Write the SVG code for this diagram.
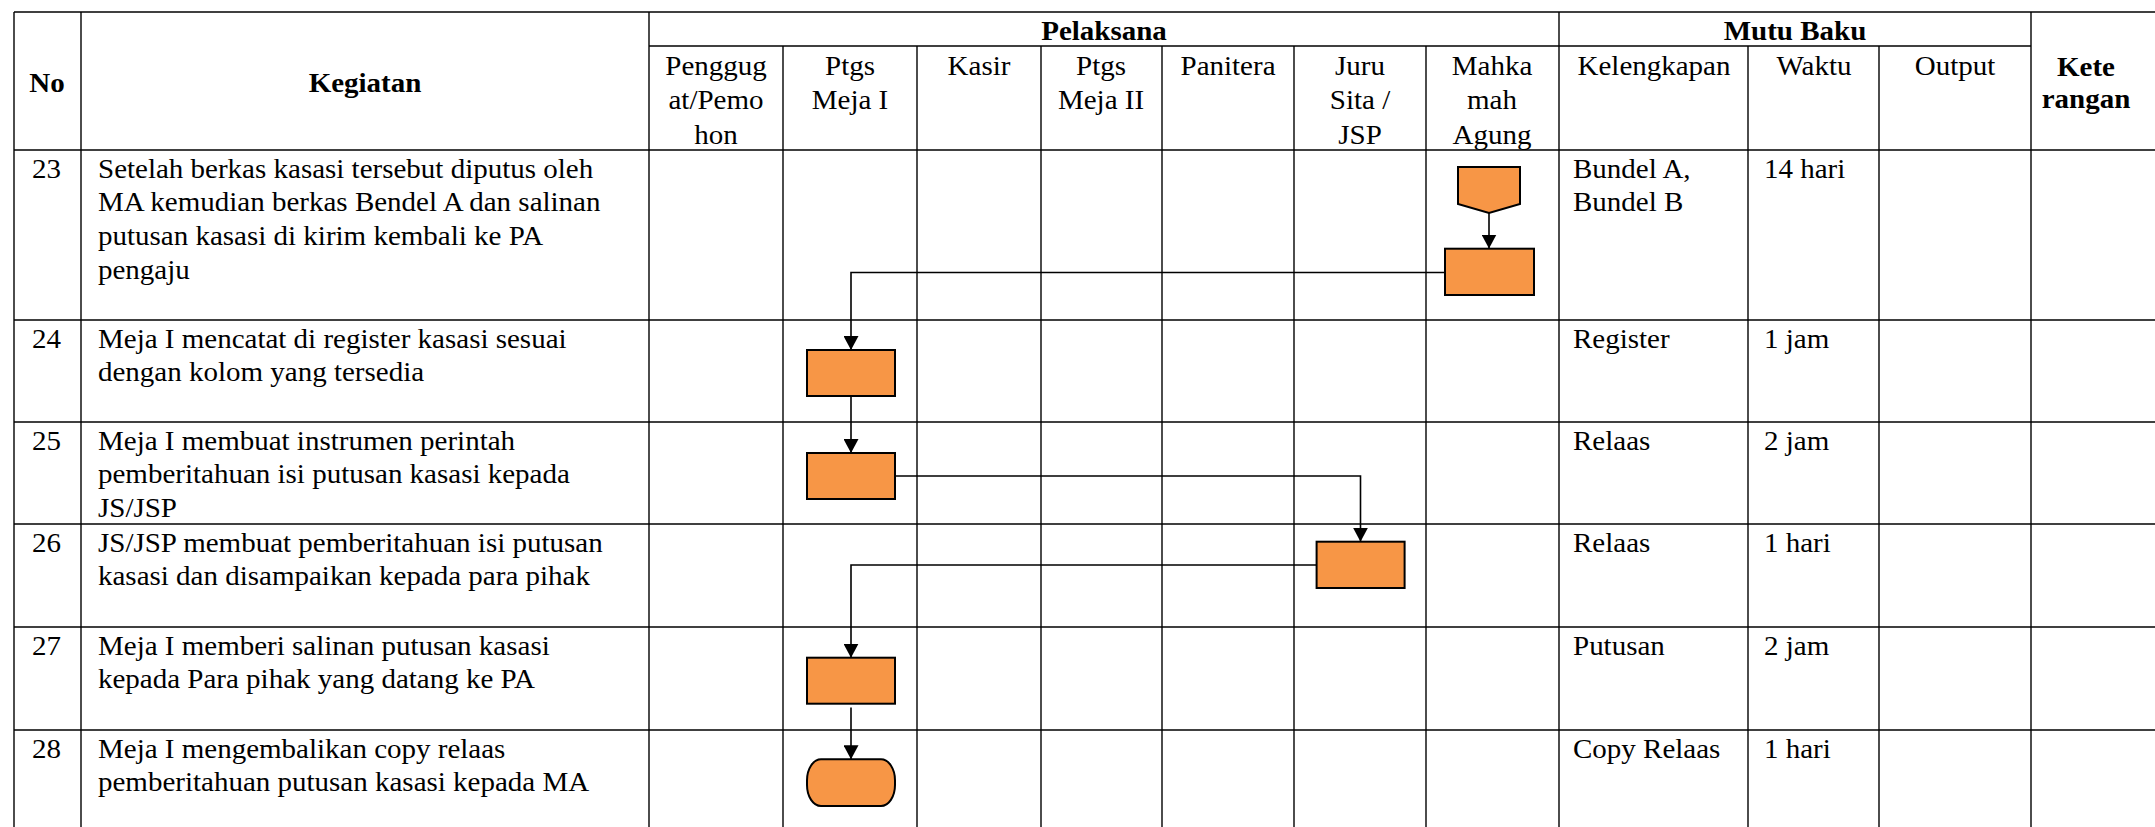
<svg xmlns="http://www.w3.org/2000/svg" width="2155" height="827" viewBox="0 0 2155 827">
<style>
.t { font-family: "Liberation Serif", "Times New Roman", serif; font-size: 26.5px; fill: #000; }
.b { font-weight: bold; }
.c { text-anchor: middle; }
.grid line { stroke: #000; stroke-width: 1.4; }
.shape { fill: #F79646; stroke: #000; stroke-width: 2; }
.conn { fill: none; stroke: #000; stroke-width: 1.6; }
</style>
<defs>
<marker id="arr" viewBox="0 0 14 15" refX="14" refY="7.5" markerWidth="14" markerHeight="15" markerUnits="userSpaceOnUse" orient="auto" preserveAspectRatio="none">
<path d="M0,0 L14,7.5 L0,15 Z" fill="#000"/>
</marker>
</defs>
<rect x="0" y="0" width="2155" height="827" fill="#fff"/>

<g id="grid" class="grid">
<line x1="14" y1="12" x2="2155" y2="12"/>
<line x1="649" y1="46" x2="2031" y2="46"/>
<line x1="14" y1="150" x2="2155" y2="150"/>
<line x1="14" y1="320" x2="2155" y2="320"/>
<line x1="14" y1="422" x2="2155" y2="422"/>
<line x1="14" y1="524" x2="2155" y2="524"/>
<line x1="14" y1="627" x2="2155" y2="627"/>
<line x1="14" y1="730" x2="2155" y2="730"/>
<line x1="14" y1="12" x2="14" y2="827"/>
<line x1="81" y1="12" x2="81" y2="827"/>
<line x1="649" y1="12" x2="649" y2="827"/>
<line x1="783" y1="46" x2="783" y2="827"/>
<line x1="917" y1="46" x2="917" y2="827"/>
<line x1="1041" y1="46" x2="1041" y2="827"/>
<line x1="1162" y1="46" x2="1162" y2="827"/>
<line x1="1294" y1="46" x2="1294" y2="827"/>
<line x1="1426" y1="46" x2="1426" y2="827"/>
<line x1="1559" y1="12" x2="1559" y2="827"/>
<line x1="1748" y1="46" x2="1748" y2="827"/>
<line x1="1879" y1="46" x2="1879" y2="827"/>
<line x1="2031" y1="12" x2="2031" y2="827"/>
</g>

<g id="header">
<text class="t b c" transform="translate(47 92) scale(1.095 1)">No</text>
<text class="t b c" transform="translate(365 92) scale(1.095 1)">Kegiatan</text>
<text class="t b c" transform="translate(1104 39.5) scale(1.095 1)">Pelaksana</text>
<text class="t b c" transform="translate(1795 39.5) scale(1.095 1)">Mutu Baku</text>
<text class="t b c" transform="translate(2086 76) scale(1.095 1)"><tspan x="0">Kete</tspan><tspan x="0" dy="32">rangan</tspan></text>
<text class="t c" transform="translate(716 75) scale(1.095 1)"><tspan x="0">Penggug</tspan><tspan x="0" dy="34.5">at/Pemo</tspan><tspan x="0" dy="34.5">hon</tspan></text>
<text class="t c" transform="translate(850 75) scale(1.095 1)"><tspan x="0">Ptgs</tspan><tspan x="0" dy="34.5">Meja I</tspan></text>
<text class="t c" transform="translate(979 75) scale(1.095 1)">Kasir</text>
<text class="t c" transform="translate(1101 75) scale(1.095 1)"><tspan x="0">Ptgs</tspan><tspan x="0" dy="34.5">Meja II</tspan></text>
<text class="t c" transform="translate(1228 75) scale(1.095 1)">Panitera</text>
<text class="t c" transform="translate(1360 75) scale(1.095 1)"><tspan x="0">Juru</tspan><tspan x="0" dy="34.5">Sita /</tspan><tspan x="0" dy="34.5">JSP</tspan></text>
<text class="t c" transform="translate(1492 75) scale(1.095 1)"><tspan x="0">Mahka</tspan><tspan x="0" dy="34.5">mah</tspan><tspan x="0" dy="34.5">Agung</tspan></text>
<text class="t c" transform="translate(1654 75) scale(1.095 1)">Kelengkapan</text>
<text class="t c" transform="translate(1814 75) scale(1.095 1)">Waktu</text>
<text class="t c" transform="translate(1955 75) scale(1.095 1)">Output</text>
</g>

<g id="rows">
<text class="t c" transform="translate(46.5 177.5) scale(1.095 1)">23</text>
<text class="t" transform="translate(98 177.5) scale(1.095 1)"><tspan x="0">Setelah berkas kasasi tersebut diputus oleh</tspan><tspan x="0" dy="33.7">MA kemudian berkas Bendel A dan salinan</tspan><tspan x="0" dy="33.7">putusan kasasi di kirim kembali ke PA</tspan><tspan x="0" dy="33.7">pengaju</tspan></text>
<text class="t" transform="translate(1573 177.5) scale(1.095 1)"><tspan x="0">Bundel A,</tspan><tspan x="0" dy="33.7">Bundel B</tspan></text>
<text class="t" transform="translate(1764 177.5) scale(1.095 1)">14 hari</text>

<text class="t c" transform="translate(46.5 347.5) scale(1.095 1)">24</text>
<text class="t" transform="translate(98 347.5) scale(1.095 1)"><tspan x="0">Meja I mencatat di register kasasi sesuai</tspan><tspan x="0" dy="33.7">dengan kolom yang tersedia</tspan></text>
<text class="t" transform="translate(1573 347.5) scale(1.095 1)">Register</text>
<text class="t" transform="translate(1764 347.5) scale(1.095 1)">1 jam</text>

<text class="t c" transform="translate(46.5 449.5) scale(1.095 1)">25</text>
<text class="t" transform="translate(98 449.5) scale(1.095 1)"><tspan x="0">Meja I membuat instrumen perintah</tspan><tspan x="0" dy="33.7">pemberitahuan isi putusan kasasi kepada</tspan><tspan x="0" dy="33.7">JS/JSP</tspan></text>
<text class="t" transform="translate(1573 449.5) scale(1.095 1)">Relaas</text>
<text class="t" transform="translate(1764 449.5) scale(1.095 1)">2 jam</text>

<text class="t c" transform="translate(46.5 551.5) scale(1.095 1)">26</text>
<text class="t" transform="translate(98 551.5) scale(1.095 1)"><tspan x="0">JS/JSP membuat pemberitahuan isi putusan</tspan><tspan x="0" dy="33.7">kasasi dan disampaikan kepada para pihak</tspan></text>
<text class="t" transform="translate(1573 551.5) scale(1.095 1)">Relaas</text>
<text class="t" transform="translate(1764 551.5) scale(1.095 1)">1 hari</text>

<text class="t c" transform="translate(46.5 654.5) scale(1.095 1)">27</text>
<text class="t" transform="translate(98 654.5) scale(1.095 1)"><tspan x="0">Meja I memberi salinan putusan kasasi</tspan><tspan x="0" dy="33.7">kepada Para pihak yang datang ke PA</tspan></text>
<text class="t" transform="translate(1573 654.5) scale(1.095 1)">Putusan</text>
<text class="t" transform="translate(1764 654.5) scale(1.095 1)">2 jam</text>

<text class="t c" transform="translate(46.5 757.5) scale(1.095 1)">28</text>
<text class="t" transform="translate(98 757.5) scale(1.095 1)"><tspan x="0">Meja I mengembalikan copy relaas</tspan><tspan x="0" dy="33.7">pemberitahuan putusan kasasi kepada MA</tspan></text>
<text class="t" transform="translate(1573 757.5) scale(1.095 1)">Copy Relaas</text>
<text class="t" transform="translate(1764 757.5) scale(1.095 1)">1 hari</text>
</g>

<g id="connectors">
<path class="conn" d="M1489,213 V248.5" marker-end="url(#arr)"/>
<path class="conn" d="M1445,272.5 H851 V350" marker-end="url(#arr)"/>
<path class="conn" d="M851,396 V453" marker-end="url(#arr)"/>
<path class="conn" d="M895,476 H1360.5 V541.7" marker-end="url(#arr)"/>
<path class="conn" d="M1316.6,565 H851 V657.7" marker-end="url(#arr)"/>
<path class="conn" d="M851,707.5 V759.3" marker-end="url(#arr)"/>
</g>

<g id="n23-offpage"><polygon class="shape" points="1458,167 1520,167 1520,204 1489,213 1458,204"/></g>
<g id="n23-ma"><rect class="shape" x="1445" y="248.7" width="89" height="46.3"/></g>
<g id="n24-meja1"><rect class="shape" x="807" y="350" width="88" height="46"/></g>
<g id="n25-meja1"><rect class="shape" x="807" y="453" width="88" height="46"/></g>
<g id="n26-jsp"><rect class="shape" x="1316.6" y="541.7" width="88" height="46.3"/></g>
<g id="n27-meja1"><rect class="shape" x="807" y="657.7" width="88" height="46"/></g>
<g id="n28-end"><rect class="shape" x="807" y="759.3" width="88" height="46.7" rx="14" ry="21"/></g>
</svg>
